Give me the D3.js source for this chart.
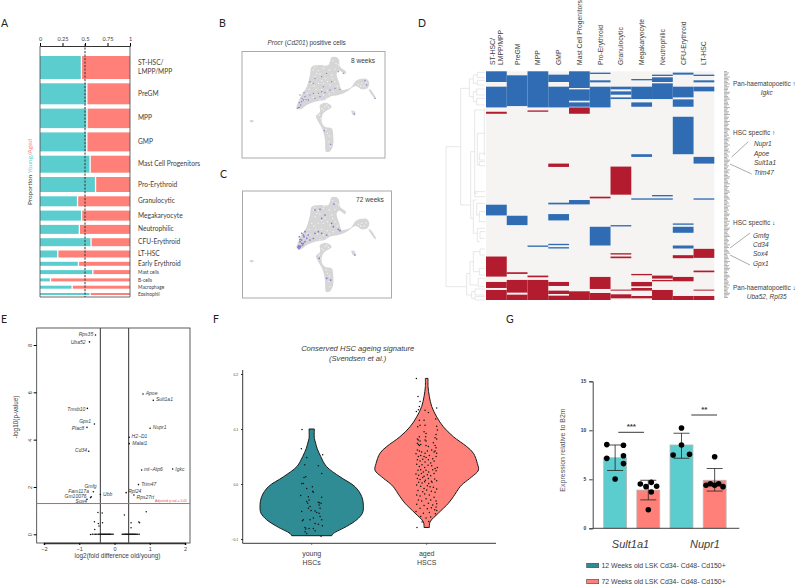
<!DOCTYPE html>
<html><head><meta charset="utf-8">
<script src="https://cdn.jsdelivr.net/npm/d3@7/dist/d3.min.js"></script>
<style>html,body{margin:0;padding:0;background:#fff}svg{display:block;opacity:.995}text{font-family:"Liberation Sans",Arial,sans-serif;fill:#3c3c3c}.lato text,text.lato{font-family:Lato,sans-serif}</style>
</head><body><svg id="c" width="799" height="584"></svg>
<script>
// ---------- Panel A ----------
const cellTypes=["ST-HSC/\nLMPP/MPP","PreGM","MPP","GMP","Mast Cell Progenitors","Pro-Erythroid","Granulocytic","Megakaryocyte","Neutrophilic","CFU-Erythroid","LT-HSC","Early Erythroid","Mast cells","B-cells","Macrophage","Eosinophil"];
const youngProportion=[0.453,0.513,0.515,0.513,0.55,0.61,0.41,0.455,0.43,0.56,0.19,0.42,0.58,0.11,0.35,0.55];
const cellAbundance=[23,21,19.5,19,17,15,10,10,9,8,7,4,4,3,3,2];
const proportionTicks=[0,0.25,0.5,0.75,1];
// ---------- Panels B, C ----------
const umapBody=[[125,22],[140,22],[147,30],[150,50],[168,65],[165,72],[148,62],[140,70],[148,100],[155,120],[170,118],[185,110],[198,92],[230,87],[238,100],[232,115],[215,118],[197,108],[170,125],[145,135],[120,140],[105,150],[75,155],[50,165],[32,178],[20,175],[25,155],[35,135],[50,110],[60,75],[65,50],[90,45],[115,45]];
const umapStalk=[[90,165],[108,158],[125,170],[100,190],[95,215],[105,230],[125,235],[130,260],[128,290],[118,305],[108,305],[105,270],[98,240],[82,210],[78,198],[90,185]];
const umapTail=[[236,118],[240,118],[258,146],[255,147]];
const umapIslandA=[[184,182],[194,184],[196,195],[190,196]];
const umapIslandB=[[-120,211],[-110,211],[-110,216],[-120,215]];
const umapHoles=[[70,60],[85,62],[100,55],[118,60],[135,58],[75,80],[90,72],[105,85],[125,75],[65,100],[85,100],[100,100],[120,105],[135,95],[58,118],[78,118],[95,118],[112,122],[130,125],[215,100],[205,103],[222,108],[105,170],[110,165],[95,175],[88,195],[112,250],[115,275],[145,45],[60,135],[90,150],[120,150],[135,142],[110,145],[80,70],[95,92],[112,95],[128,85],[72,108],[52,130],[48,145],[70,142],[82,132],[100,135],[118,132],[142,108],[138,40],[128,32],[102,48],[75,52],[212,108],[228,98],[100,180],[115,172],[118,258],[120,290],[108,240],[92,205]];
const umapPurple8w=[[22,175],[25,172],[28,172],[32,165],[28,158],[35,155],[40,150],[36,145],[45,140],[30,135],[42,128],[60,135],[70,130],[85,130],[95,125],[105,128],[120,120],[135,115],[150,118],[60,95],[70,100],[75,85],[95,80],[110,70],[125,95],[145,65],[160,70],[225,92],[230,105],[255,145],[103,242],[122,283],[193,192],[75,145],[90,140],[55,150],[48,148],[100,110]];
const umapPurple72w=[[24,172],[27,176],[30,172],[25,168],[28,168],[32,168],[30,155],[35,150],[28,140],[40,160],[45,155],[35,130],[45,125],[55,135],[60,150],[70,145],[75,130],[85,125],[95,130],[110,135],[130,110],[145,118],[95,85],[105,75],[125,100],[75,60],[90,58],[132,42],[195,195],[88,205],[110,265],[122,270],[50,145],[42,140],[38,165],[30,148],[40,135],[150,122],[35,160]];
// ---------- Panel D : runs of genes per cell type, [first, last, direction] ----------
const heatColumns=["ST-HSC/\nLMPP/MPP","PreGM","MPP","GMP","Mast Cell Progenitors","Pro-Erythroid","Granulocytic","Megakaryocyte","Neutrophilic","CFU-Erythroid","LT-HSC"];
const heatRuns=[
[[0,32,1],[46,108,1],[121,127,-1],[399,431,1],[554,614,-1],[630,648,-1],[654,684,-1]],
[[12,104,1],[432,460,1],[601,606,-1],[624,662,-1],[668,684,-1]],
[[0,108,1],[117,121,-1],[521,525,1],[611,616,-1],[624,684,-1]],
[[10,32,1],[46,108,1],[276,286,-1],[393,398,1],[427,446,1],[516,520,1],[526,530,1],[630,642,-1],[656,666,-1],[671,684,-1]],
[[0,50,1],[54,88,1],[93,106,1],[108,127,-1],[385,398,1],[658,684,-1]],
[[4,8,1],[27,33,1],[46,108,1],[375,380,-1],[465,521,1],[615,651,-1],[663,684,-1]],
[[46,54,1],[60,70,1],[78,83,1],[285,369,-1],[460,464,1],[544,548,-1],[554,559,-1],[653,656,-1],[667,679,-1]],
[[23,27,1],[46,83,1],[93,106,1],[248,256,1],[380,384,1],[606,610,-1],[630,643,-1],[648,656,-1],[672,679,-1]],
[[10,14,1],[18,32,1],[36,83,1],[370,374,1],[380,384,1],[611,620,-1],[624,628,-1],[654,684,-1]],
[[4,10,1],[46,78,1],[84,106,1],[136,248,1],[455,459,1],[465,483,1],[521,530,1],[550,559,-1],[615,628,-1],[672,684,-1]],
[[10,14,1],[27,33,1],[46,60,1],[256,276,1],[380,384,1],[531,558,-1],[596,601,-1],[653,656,-1],[672,684,-1]]];
// dendrogram merges: [height, topBranch, bottomBranch, topChildHeight, bottomChildHeight]
const dendroMerges=[[18,245,665,62,80],[62,70,420,88,92],[88,42,95,100,100],[100,30,55,112,112],[112,22,38,135,135],[112,46,60,135,135],[100,80,110,110,110],[110,72,90,135,135],[110,100,120,135,135],[92,260,460,104,100],[104,135,385,133,112],[133,130,270,135,135],[112,205,300,135,118],[118,265,285,135,135],[118,290,302,135,135],[104,380,395,135,135],[100,405,505,110,112],[110,415,450,135,118],[118,440,470,135,135],[112,490,530,135,120],[120,500,520,135,135],[80,625,690,90,95],[90,590,660,100,115],[100,560,620,120,118],[120,552,570,135,135],[118,610,630,135,135],[115,640,665,135,135],[95,680,700,105,105],[105,672,690,135,135],[105,695,705,135,135]];
const geneMarkLengths=[3,5,4,3,6,4,5,3,4,6,3,5,4,4,3,6,5,3,4,5,6,3,4,4,5,3,6,4,3,5,4,6,3,5,4,3,6,4,5,4,3,5,6,4,3,4,5,3,6,4,5,3,4,6,4,3,5,4,6,3,4,5,3,4,6,5,4,3,5,4,3,6,4,5,3,4,6,5,3,4,4,6,3,5,4,3,5,6,4,3,4,5,6,3,4,5,3,6,4,4,5,3,4,6,5,3,4,4,6,3,5,4,3,6,5,4,3,4,5,6,3,4,5,4,3,6,4,5,3,4,5,6,3,4,4,5,3,6,4,3,5,4,6,5,3,4,3,5,6,4,3,4,5,4,6,3,5,4,3,4,6,5,3,4];
const heatNotes=[["Pan-haematopoeitic ↑",733,86,0,"start"],["Igkc",766.7,95,1,"middle"],["HSC specific ↑",733,135,0,"start"],["Nupr1",754,146,1,"start"],["Apoe",754,156,1,"start"],["Sult1a1",754,165,1,"start"],["Trim47",754,175,1,"start"],["HSC specific ↓",733,225,0,"start"],["Gmfg",753,238,1,"start"],["Cd34",753,247,1,"start"],["Sox4",753,256,1,"start"],["Gpx1",753,266,1,"start"],["Pan-haematopoeitic ↓",733,289.7,0,"start"],["Uba52, Rpl35",766.7,298.5,1,"middle"]];
const heatLeaders=[[731.7,157,748.3,141.7],[730,164,751.7,174],[730,248,750,233],[730,255,750,265]];
// ---------- Panel E ----------
const volcanoGenes=[["Rps35",-0.54,8.42,-2.3,1.3],["Uba52",-0.71,8.13,-4,2.3],["Tmsb10",-0.77,5.32,-2,2.3],["Gpx1",-0.57,4.66,-3.3,-0.6],["Plac8",-0.78,4.52,-2.7,2.6],["Cd34",-0.73,3.51,-1.7,1],["Gmfg",-0.6,1.8,3.3,-3.7],["Fam117a",-0.66,1.59,-2.3,-4],["Gm10076",-0.68,1.55,-4,0.7],["Sox4",-0.78,1.48,0,4],
["Ubb",-0.4,1.68,2.7,1.3,1],["Apoe",0.81,5.93,2.7,0.7],["Sult1a1",1.1,5.66,2.7,1],["Nupr1",1.01,4.48,2.7,1],["H2−D1",0.42,4.1,2.3,1],["Malat1",0.42,3.83,3,1],["mt−Atp6",0.77,2.72,2.3,1.3],["Igkc",1.65,2.76,2.7,2.3],["Trim47",0.68,2.1,2.7,1.3],["Rpl24",0.33,1.76,2,0.3],["Rps27rt",0.55,1.66,2.7,3.7]];
const volcanoOther=[[-0.47,0.92],[-0.35,0.9],[0.28,0.82],[0.9,0.95],[-0.57,0.53],[-0.46,0.46],[-0.44,0.35],[-0.34,0.49],[-0.56,0.2],[-0.68,-0.01],[0.47,0.49],[0.47,0.28],[0.69,0.52],[0.71,0.49]];
const volcanoZeroX=[-0.63,-0.58,-0.54,-0.5,-0.46,-0.43,-0.4,-0.38,-0.36,-0.34,-0.32,-0.3,-0.28,-0.26,-0.24,-0.22,-0.2,-0.18,-0.16,-0.14,-0.12,-0.1,-0.07,-0.04,0.22,0.25,0.28,0.3,0.32,0.34,0.36,0.38,0.4,0.42,0.44,0.46,0.48,0.5,0.52,0.54,0.56,0.58,0.6,0.63,0.66,0.7];
const volcanoXTicks=[-2,-1,0,1,2], volcanoYTicks=[0,2,4,6,8];
// ---------- Panel F ----------
const violinGroups=["young\nHSCs","aged\nHSCS"];
const youngProfile=[[0.1,8],[0.083,8],[0.074,12],[0.065,16],[0.05,27],[0.032,44],[0.013,85],[-0.005,130],[-0.023,150],[-0.041,155],[-0.053,152],[-0.065,135],[-0.077,105],[-0.09,65],[-0.094,60]];
const agedProfile=[[0.192,4],[0.177,4],[0.159,8],[0.141,15],[0.122,30],[0.104,50],[0.086,80],[0.068,120],[0.056,140],[0.037,152],[0.025,155],[0.013,135],[0.001,110],[-0.005,100],[-0.023,80],[-0.035,65],[-0.053,35],[-0.069,10],[-0.079,8]];
const youngDots=[[-29,99],[-31,64],[-15,48],[33,53],[-21,35],[20,33],[30,19],[-18,13],[-23,12],[-30,1],[-25,1],[-15,-8],[2,-5],[3,-13],[5,-15],[-33,-21],[-10,-23],[-8,-29],[-15,-32],[30,-24],[20,-33],[28,-35],[23,-34],[-12,-35],[22,-38],[25,-44],[-5,-41],[-10,-44],[-30,-50],[10,-49],[15,-52],[22,-53],[-2,-48],[-25,-65],[-28,-67],[-5,-65],[5,-62],[30,-65],[25,-59],[10,-72],[20,-73],[32,-76],[-20,-79],[-8,-81],[5,-81],[-20,-87],[-15,-90],[10,-85],[28,-95],[-18,-82]];
const agedDots=[[-31,192],[-26,159],[-20,150],[-22,141],[-25,135],[30,138],[-5,134],[-31,132],[5,130],[-22,116],[-8,116],[27,118],[-20,107],[-5,107],[30,105],[-27,104],[-8,95],[-2,92],[32,98],[28,90],[-22,86],[-3,86],[-28,82],[-25,80],[-20,78],[-5,80],[-2,78],[25,84],[30,82],[-28,74],[-25,72],[-22,70],[-18,72],[-2,70],[5,68],[20,75],[25,70],[28,66],[-28,62],[-22,60],[-15,58],[-5,56],[2,60],[15,62],[22,58],[25,60],[30,56],[-32,55],[-25,50],[-18,52],[-8,50],[-2,48],[8,52],[18,46],[28,50],[-28,44],[-20,42],[-12,45],[-5,40],[5,44],[12,38],[22,42],[-30,36],[-22,32],[-14,35],[-6,30],[4,34],[15,33],[25,28],[32,30],[-26,25],[-18,26],[-10,22],[-2,25],[6,22],[18,26],[28,24],[-32,18],[-24,16],[-16,19],[-8,14],[2,17],[12,15],[22,19],[-28,10],[-20,8],[-12,12],[-4,7],[5,10],[14,5],[24,9],[30,6],[-24,3],[-14,2],[-6,4],[6,1],[16,3],[-30,-2],[-18,-4],[-8,-8],[2,-3],[10,-5],[20,-6],[30,-9],[-26,-12],[-12,-14],[0,-11],[14,-13],[25,-15],[-30,-20],[-20,-22],[-6,-18],[8,-20],[22,-24],[-25,-29],[-15,-31],[-2,-27],[12,-29],[28,-31],[-30,-37],[-8,-39],[5,-35],[18,-38],[30,-36],[-20,-44],[2,-45],[14,-43],[24,-47],[28,-42],[-32,-50],[-10,-53],[8,-52],[26,-54],[30,-48],[-18,-59],[-2,-62],[12,-60],[-14,-69],[6,-68],[-29,-79]];
// ---------- Panel G ----------
const geneNames=["Sult1a1","Nupr1"];
const qpcrMeans=[7.2,3.9,8.5,4.9];
const qpcrLow=[5.9,2.9,7.15,3.8];
const qpcrHigh=[8.5,4.9,9.7,6.1];
const qpcrPoints=[[8.54,8.47,7.14,7.41,6.6,5.03],[4.52,4.25,4.69,4.29,3.71,1.9],[10.24,8.5,7.48,7.55],[7.3,4.4,4.55,4.4,4.55,4.25]];
const qpcrOffsets=[[-25,25,-25,25,25,0],[-24,-7,9,25,9,0],[0,0,-25,24,0,0],[0,-26,-13,0,12,25]];
const qpcrTicks=[0,5,10,15];
const qpcrLegend=["12 Weeks old LSK Cd34- Cd48- Cd150+","72 Weeks old LSK Cd34- Cd48- Cd150+"];

const teal="#5ccdcf", salmon="#ff8078", tealDark="#2f8c94";
const svg=d3.select("#c");
const lbl=(g,t,x,y,o={})=>g.append("text").attr("x",x).attr("y",y).text(t).attr("font-size",o.s||6.5).attr("text-anchor",o.a||"start").attr("font-style",o.i?"italic":null).attr("class",o.c||null).attr("font-weight",o.w||null).style("fill",o.f||null);

// letters
[["A",1,27],["B",219,27],["C",220,178],["D",418,27],["E",1,323],["F",213,323],["G",506,323]].forEach(d=>lbl(svg,d[0],d[1],d[2],{s:10.5,c:"lato",f:"#222"}));

// ---- A ----
{const g=svg.append("g");
 const x=d3.scaleLinear().domain([0,1]).range([40,130]);
 const gap=4.3;
 const starts=[0,...d3.cumsum(cellAbundance.map(v=>v+gap))];
 const y=d3.scaleLinear().domain([0,1]).range([56,57]);
 cellTypes.forEach((c,i)=>{
  const y0=y(starts[i]),h=y(starts[i]+cellAbundance[i])-y0,xe=x(youngProportion[i]);
  g.append("rect").attr("x",x(0)).attr("y",y0).attr("width",xe-x(0)).attr("height",h).attr("fill",teal);
  g.append("rect").attr("x",xe+1.3).attr("y",y0).attr("width",x(1)-xe-1.3).attr("height",h).attr("fill",salmon);
  const small=i>=12,parts=c.split("\n"),mid=y0+h/2;
  parts.forEach((p,k)=>lbl(g,p,138,mid+2+(k-(parts.length-1)/2)*9,{s:small?4.8:6.6,c:"lato"}));
 });
 const ax=g.append("g").attr("transform","translate(0,46)").call(d3.axisTop(x).tickValues(proportionTicks).tickFormat(d3.format("~g")).tickSize(3));
 ax.selectAll("text").attr("font-size",5.6).attr("class","lato").attr("dy",0.5); ax.select(".domain").attr("stroke","#333");
 g.append("line").attr("x1",40).attr("x2",40).attr("y1",46).attr("y2",297).attr("stroke","#444").attr("stroke-width",.8);
 g.append("line").attr("x1",130).attr("x2",130).attr("y1",46).attr("y2",297).attr("stroke","#444").attr("stroke-width",.8);
 g.append("line").attr("x1",40).attr("x2",130).attr("y1",297).attr("y2",297).attr("stroke","#444").attr("stroke-width",.8);
 g.append("line").attr("x1",x(.5)).attr("x2",x(.5)).attr("y1",44).attr("y2",297).attr("stroke","#333").attr("stroke-width",1).attr("stroke-dasharray","2.2,1.3");
 const t=g.append("text").attr("transform","translate(32,205) rotate(-90)").attr("font-size",6.4).attr("class","lato");
 t.append("tspan").text("Proportion ").style("fill","#444");
 t.append("tspan").text("Young").style("fill",teal);
 t.append("tspan").text("/").style("fill","#888");
 t.append("tspan").text("Aged").style("fill",salmon);
}
// ---- B, C ----
function umap(x0,x1,y0,y1,offY,purple,r,title){
 const g=svg.append("g");
 g.append("rect").attr("x",x0).attr("y",y0).attr("width",x1-x0).attr("height",y1-y0).attr("fill","#fff").attr("stroke","#aaa").attr("stroke-width",1);
 const x=d3.scaleLinear().domain([0,300]).range([290,390]),y=d3.scaleLinear().domain([0,300]).range([offY,offY+100]);
 const line=d3.line().x(d=>x(d[0])).y(d=>y(d[1])).curve(d3.curveCatmullRomClosed);
 [umapBody,umapStalk,umapTail,umapIslandA,umapIslandB].forEach(p=>g.append("path").attr("d",line(p)).attr("fill","#d6d6d6"));
 g.selectAll(".h").data(umapHoles).join("circle").attr("cx",d=>x(d[0])).attr("cy",d=>y(d[1])).attr("r",.7).attr("fill","#f6f6f6");
 g.selectAll(".p").data(purple).join("circle").attr("cx",d=>x(d[0])).attr("cy",d=>y(d[1])).attr("r",r).attr("fill","#6a5acd").attr("opacity",.8);
 lbl(g,title[0],title[1],title[2],{s:6.6,a:"middle"});
}
umap(242,385,51.5,158,50,umapPurple8w,.65,["8 weeks",363,62.5]);
umap(242.5,391.5,191,298,190,umapPurple72w,.85,["72 weeks",370,202]);
{const t=svg.append("text").attr("x",306.7).attr("y",45).attr("text-anchor","middle").attr("font-size",6.4);
 t.append("tspan").text("Procr").attr("font-style","italic");t.append("tspan").text(" (");
 t.append("tspan").text("Cd201").attr("font-style","italic");t.append("tspan").text(") positive cells");}
// ---- D ----
{const g=svg.append("g");
 const x=d3.scaleBand().domain(heatColumns).range([486,714.3]);
 const y=d3.scaleLinear().domain([0,684]).range([71.3,300]);
 g.append("rect").attr("x",486).attr("y",71.3).attr("width",228.3).attr("height",228.7).attr("fill","#f6f4f3");
 heatColumns.forEach((c,i)=>{
  g.selectAll(null).data(heatRuns[i]).join("rect").attr("x",x(c)).attr("width",x.bandwidth()).attr("y",d=>y(d[0])).attr("height",d=>y(d[1])-y(d[0]))
   .attr("fill",d=>d[2]>0?"#2f6cb3":"#b21c2e");
  const parts=c.split("\n");
  parts.forEach((p,k)=>g.append("text").attr("transform",`translate(${x(c)+x.bandwidth()/2+2.5+(k-(parts.length-1)/2)*8.4},65) rotate(-90)`).attr("font-size",6.8).text(p));
 });
 const dx=d3.scaleLinear().domain([0,180]).range([440,500]),dy=d3.scaleLinear().domain([0,720]).range([65,305]);
 const den=g.append("g").attr("stroke","#d8d8d8").attr("stroke-width",.6).attr("fill","none");
 dendroMerges.forEach(m=>den.append("path").attr("d",`M${dx(m[3])},${dy(m[1])}H${dx(m[0])}V${dy(m[2])}H${dx(m[4])}`));
 const gy=d3.scaleBand().domain(d3.range(geneMarkLengths.length)).range([71,298]).paddingInner(.25);
 g.selectAll(null).data(geneMarkLengths).join("rect").attr("x",724).attr("y",(d,i)=>gy(i)).attr("width",d=>d).attr("height",gy.bandwidth()).attr("fill","#b4b4b4");
 heatNotes.forEach(n=>lbl(g,n[0],n[1],n[2],{s:6.5,i:n[3],a:n[4]}));
 g.selectAll(null).data(heatLeaders).join("line").attr("x1",d=>d[0]).attr("y1",d=>d[1]).attr("x2",d=>d[2]).attr("y2",d=>d[3]).attr("stroke","#555").attr("stroke-width",.5);
}
// ---- E ----
{const g=svg.append("g");
 const x=d3.scaleLinear().domain([-2,2]).range([44,185]),y=d3.scaleLinear().domain([0,8]).range([534.3,345]);
 g.append("rect").attr("x",36.7).attr("y",328).attr("width",153.3).attr("height",215).attr("fill","none").attr("stroke","#333").attr("stroke-width",.8);
 const ax=g.append("g").attr("transform","translate(0,543)").call(d3.axisBottom(x).tickValues(volcanoXTicks).tickFormat(d=>d<0?"−"+(-d):d).tickSize(2));
 ax.selectAll("text").attr("font-size",5.5).attr("dy",0).attr("y",8);ax.select(".domain").attr("stroke","#333").attr("stroke-width",1.6);
 const ay=g.append("g").attr("transform","translate(36.7,0)").call(d3.axisLeft(y).tickValues(volcanoYTicks).tickSize(3));
 ay.selectAll("text").attr("font-size",5.5).attr("transform","rotate(-90)").attr("x",0).attr("y",-5).attr("dy",0).attr("text-anchor","middle");
 ay.select(".domain").attr("stroke","none");
 [-.4,.4].forEach(v=>g.append("line").attr("x1",x(v)).attr("x2",x(v)).attr("y1",328).attr("y2",543).attr("stroke","#555").attr("stroke-width",1.2));
 g.append("line").attr("x1",36.7).attr("x2",190).attr("y1",y(1.3)).attr("y2",y(1.3)).attr("stroke","#f0504a").attr("stroke-width",1);
 lbl(g,"Adjusted p-val = 0.05",187,y(1.3)-1.5,{s:3.4,a:"end",f:"#f0504a"});
 g.selectAll(null).data(volcanoZeroX).join("circle").attr("cx",d=>x(d)).attr("cy",y(0)).attr("r",.8).attr("fill","#111");
 g.selectAll(null).data(volcanoOther).join("circle").attr("cx",d=>x(d[0])).attr("cy",d=>y(d[1])).attr("r",.75).attr("fill","#111");
 g.selectAll(null).data(volcanoGenes).join("circle").attr("cx",d=>x(d[1])).attr("cy",d=>y(d[2])).attr("r",.8).attr("fill","#111");
 volcanoGenes.forEach(d=>lbl(g,d[0],x(d[1])+d[3],y(d[2])+d[4],{s:5,i:1,a:(d[1]<0&&!d[5])?"end":"start"}));
 lbl(g,"log2(fold difference old/young)",117.5,558,{s:6.4,a:"middle"});
 g.append("text").attr("transform","translate(18,417) rotate(-90)").attr("font-size",6.4).attr("text-anchor","middle").text("-log10(p-value)");
}
// ---- F ----
{const g=svg.append("g");
 const x=d3.scaleBand().domain(violinGroups).range([254.2,484.2]);
 const y=d3.scaleLinear().domain([-0.1,0.2]).range([539,374]);
 const w=d3.scaleLinear().domain([0,155]).range([0,51.7]);
 const jit=d3.scaleLinear().domain([-35,35]).range([-11.67,11.67]);
 [[youngProfile,tealDark,youngDots],[agedProfile,salmon,agedDots]].forEach((d,i)=>{
  const c=x(violinGroups[i])+x.bandwidth()/2;
  const ar=d3.area().y(p=>y(p[0])).x0(p=>c-w(p[1])).x1(p=>c+w(p[1])).curve(d3.curveCatmullRom);
  g.append("path").attr("d",ar(d[0])).attr("fill",d[1]).attr("stroke","#1a1a1a").attr("stroke-width",1);
  g.selectAll(null).data(d[2]).join("circle").attr("cx",p=>c+jit(p[0])).attr("cy",p=>y(p[1]/1000)).attr("r",.75).attr("fill","#111");
  const parts=violinGroups[i].split("\n");
  parts.forEach((p,k)=>lbl(g,p,c,555.5+k*9.3,{s:7,a:"middle"}));
  g.append("line").attr("x1",c).attr("x2",c).attr("y1",543.3).attr("y2",545).attr("stroke","#333").attr("stroke-width",.6);
 });
 const ay=g.append("g").attr("transform","translate(242.7,0)").call(d3.axisLeft(y).tickValues([-0.1,0,0.1,0.2]).tickFormat(d=>d<0?"−"+d3.format(".1f")(-d):d3.format(".1f")(d)).tickSize(1.5));
 ay.selectAll("text").attr("font-size",3.4);ay.select(".domain").attr("stroke","none");
 g.append("path").attr("d","M242.7,370V543.3H496").attr("fill","none").attr("stroke","#222").attr("stroke-width",.9);
 lbl(g,"Conserved HSC ageing signature",357.7,351,{s:7.6,i:1,a:"middle"});
 lbl(g,"(Svendsen et al.)",357.7,361,{s:7.6,i:1,a:"middle"});
}
// ---- G ----
{const g=svg.append("g");
 const y=d3.scaleLinear().domain([0,15]).range([528.3,381.3]);
 const x=d3.scaleBand().domain(d3.range(4)).range([593.4,736.4]).paddingInner(.31).paddingOuter(.31);
 const c=i=>x(i)+x.bandwidth()/2;
 qpcrMeans.forEach((m,i)=>{
  g.append("rect").attr("x",x(i)).attr("y",y(m)).attr("width",x.bandwidth()).attr("height",y(0)-y(m)).attr("fill",i%2?salmon:teal).attr("stroke","#b5b5b5").attr("stroke-width",.8);
  g.append("path").attr("d",`M${c(i)-8},${y(qpcrLow[i])}H${c(i)+8}M${c(i)},${y(qpcrLow[i])}V${y(qpcrHigh[i])}M${c(i)-8},${y(qpcrHigh[i])}H${c(i)+8}`).attr("stroke","#222").attr("stroke-width",.8).attr("fill","none");
  g.selectAll(null).data(qpcrPoints[i]).join("circle").attr("cx",(d,k)=>c(i)+qpcrOffsets[i][k]/3).attr("cy",d=>y(d)).attr("r",2.8).attr("fill","#000");
 });
 const ax=g.append("g").attr("transform","translate(592.7,0)").call(d3.axisLeft(y).tickValues(qpcrTicks).tickSize(3.5));
 ax.selectAll("text").attr("font-size",5).attr("font-weight","bold");ax.select(".domain").attr("stroke","#444");ax.selectAll("line").attr("stroke","#444");
 g.append("line").attr("x1",592.7).attr("x2",739.3).attr("y1",y(0)).attr("y2",y(0)).attr("stroke","#444");
 g.append("text").attr("transform","translate(565,450) rotate(-90)").attr("font-size",7).attr("text-anchor","middle").style("fill","#555").text("Expression relative to B2m");
 g.append("line").attr("x1",618.3).attr("x2",644).attr("y1",432.3).attr("y2",432.3).attr("stroke","#222").attr("stroke-width",.9);
 g.append("line").attr("x1",691.3).attr("x2",717).attr("y1",415).attr("y2",415).attr("stroke","#222").attr("stroke-width",.9);
 lbl(g,"***",631.3,428.5,{s:8,a:"middle",w:"bold"});
 lbl(g,"**",704.3,412,{s:8,a:"middle",w:"bold"});
 lbl(g,geneNames[0],630.5,548,{s:11,i:1,a:"middle"});
 lbl(g,geneNames[1],705,548,{s:11,i:1,a:"middle"});
 qpcrLegend.forEach((t,i)=>{
  const yy=563.3+i*16;
  g.append("rect").attr("x",586.7).attr("y",yy).attr("width",12).attr("height",4.4).attr("fill",i?salmon:tealDark).attr("stroke","#444").attr("stroke-width",.6);
  lbl(g,t,601.5,yy+4.6,{s:6.9});
 });
}
</script></body></html>
